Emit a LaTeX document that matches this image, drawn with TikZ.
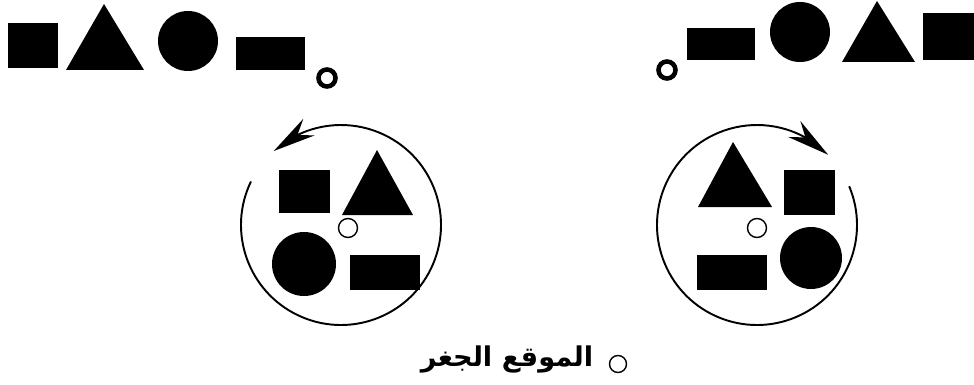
\documentclass[tikz,border=0pt]{standalone}
\usepackage{fontspec}
\newfontfamily\arabicfont[Script=Arabic]{DejaVu Sans}
\TeXXeTstate=1
\usepackage{tikz}
\usetikzlibrary{arrows.meta, bending}

\begin{document}
\begin{tikzpicture}[x=0.02cm, y=-0.02cm,
  solid/.style={fill=black},
  wheel/.style={draw, line width=1.1pt},
  hole/.style={draw, line width=0.8pt},
  dotring/.style={draw, line width=2.6pt},
  turn/.style={-{Stealth[length=0.85cm, width=0.4cm, flex]}}]
\useasboundingbox (0,0) rectangle (974,385);

% top row, left
\fill[solid] (8,23) rectangle (58,68);
\fill[solid] (66,70) -- (104,4) -- (144,70) -- cycle;
\fill[solid] (188,41) circle (30);
\fill[solid] (236,37) rectangle (305,70);
\draw[dotring] (327,78) circle (8.5);

% top row, right
\draw[dotring] (667,70) circle (8.5);
\fill[solid] (687,28) rectangle (755,60);
\fill[solid] (800,32) circle (30);
\fill[solid] (842,62) -- (877,1) -- (915,62) -- cycle;
\fill[solid] (923,13) rectangle (974,60);

% left wheel
\draw[wheel, turn] (341,225) ++(205.8:100) arc[start angle=205.8, end angle=-132.3, radius=100];
\fill[solid] (279,170) rectangle (330,213);
\fill[solid] (342,215) -- (377,150) -- (413,215) -- cycle;
\draw[hole] (348,228) circle (9.5);
\fill[solid] (304,264) circle (32);
\fill[solid] (350,255) rectangle (420,290);

% right wheel
\draw[wheel, turn] (757,225) ++(-22.8:100) arc[start angle=-22.8, end angle=315.4, radius=100];
\fill[solid] (698,207) -- (733,142) -- (772,207) -- cycle;
\fill[solid] (784,170) rectangle (835,215);
\draw[hole] (757,228) circle (9.5);
\fill[solid] (697,255) rectangle (767,290);
\fill[solid] (811,258) circle (31);

% legend
\draw[hole] (618,364) circle (8.5);
\node[inner sep=0pt, font=\arabicfont\bfseries\fontsize{15.5}{19}\selectfont] (lbl) at (507,359)
   {\beginR الموقع الجغر\endR};
\end{tikzpicture}
\end{document}
